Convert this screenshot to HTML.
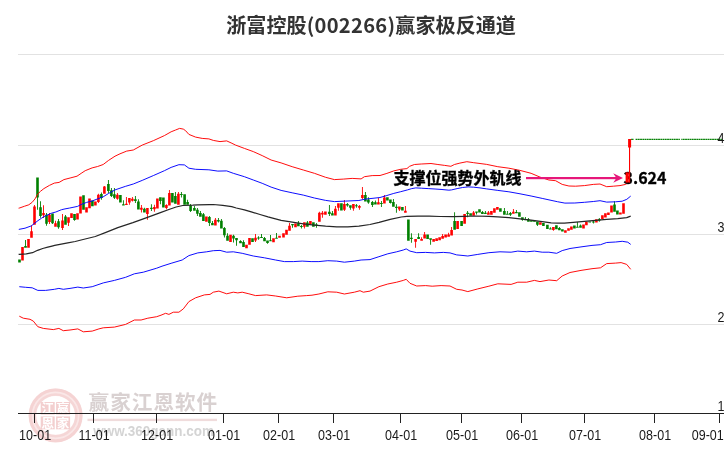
<!DOCTYPE html>
<html lang="zh-CN"><head><meta charset="utf-8"><title>浙富控股(002266)赢家极反通道</title>
<style>html,body{margin:0;padding:0;background:#fff;}body{width:726px;height:450px;overflow:hidden;position:relative;font-family:"Liberation Sans","Noto Sans CJK SC",sans-serif;}svg{position:absolute;left:0;top:0;display:block}
.t{font-family:"Noto Sans CJK SC","Liberation Sans",sans-serif;font-weight:700;fill:#333}
.ax{font-family:"Liberation Sans",sans-serif;font-size:14.3px;fill:#1a1a1a}
.an{font-family:"Noto Sans CJK SC","Liberation Sans",sans-serif;font-weight:700;font-size:16px;fill:#000}
.wm{font-family:"Noto Sans CJK SC","Liberation Sans",sans-serif;}
</style></head><body>
<svg width="726" height="450" viewBox="0 0 726 450">
<rect width="726" height="450" fill="#fff"/>
<g id="wm">
<circle cx="55.6" cy="415.4" r="23.2" fill="none" stroke="#fae7e7" stroke-width="7.6"/>
<circle cx="55.6" cy="415.4" r="25.4" fill="none" stroke="#f5d3d3" stroke-width="3"/>
<circle cx="55.6" cy="415.4" r="20.9" fill="none" stroke="#f5d6d6" stroke-width="2.6"/>
<rect x="40.7" y="402" width="14" height="12.6" fill="#f3cfcf"/>
<rect x="56.1" y="402" width="14" height="12.6" fill="#f3cfcf"/>
<rect x="40.7" y="416.4" width="14" height="12.9" fill="#f3cfcf"/>
<rect x="56.1" y="416.4" width="14" height="12.9" fill="#f3cfcf"/>
<text class="wm" x="47.7" y="412.9" font-size="12.5" font-weight="700" text-anchor="middle" fill="#fff">江</text>
<text class="wm" x="63.1" y="412.9" font-size="12.5" font-weight="700" text-anchor="middle" fill="#fff">赢</text>
<text class="wm" x="47.7" y="427.5" font-size="12.5" font-weight="700" text-anchor="middle" fill="#fff">恩</text>
<text class="wm" x="63.1" y="427.5" font-size="12.5" font-weight="700" text-anchor="middle" fill="#fff">家</text>
<text class="wm" x="88.6" y="410.3" font-size="20.6" font-weight="700" fill="#d9d1d1" textLength="128.6" lengthAdjust="spacing">赢家江恩软件</text>
<rect x="87.5" y="418.7" width="129.5" height="2.4" fill="#f0dcdc"/>
<text x="93.2" y="435.5" font-family="Liberation Sans,sans-serif" font-size="14.5" font-weight="700" fill="#d4d4d4" textLength="120.7" lengthAdjust="spacingAndGlyphs">www.360gann.com</text>
</g>
<rect x="18" y="54.0" width="706" height="1" fill="#e2e2e2"/>
<rect x="18" y="145.0" width="706" height="1" fill="#e2e2e2"/>
<rect x="18" y="234.0" width="706" height="1" fill="#e2e2e2"/>
<rect x="18" y="324.0" width="706" height="1" fill="#e2e2e2"/>
<path d="M18.20,259.5h2.6v3.0h-2.6zM24.20,246.0h2.6v1.7h-2.6zM25.05,240.0h0.9v6.0h-0.9zM36.20,177.6h2.6v20.0h-2.6zM37.05,197.6h0.9v12.1h-0.9zM39.20,207.2h2.6v8.8h-2.6zM40.05,201.2h0.9v6.0h-0.9zM40.05,216.0h0.9v1.8h-0.9zM45.20,214.7h2.6v9.0h-2.6zM46.05,213.0h0.9v1.7h-0.9zM46.05,223.7h0.9v2.0h-0.9zM51.20,213.5h2.6v9.8h-2.6zM52.05,223.3h0.9v0.7h-0.9zM57.20,221.3h2.6v6.0h-2.6zM58.05,219.0h0.9v2.3h-0.9zM58.05,227.3h0.9v1.4h-0.9zM64.20,216.6h2.6v8.1h-2.6zM65.05,215.0h0.9v1.6h-0.9zM73.20,214.0h2.6v6.1h-2.6zM74.05,220.1h0.9v0.6h-0.9zM82.20,195.3h2.6v14.4h-2.6zM91.10,200.6h2.6v5.6h-2.6zM100.10,194.0h2.6v4.1h-2.6zM100.95,192.6h0.9v1.4h-0.9zM100.95,198.1h0.9v1.7h-0.9zM107.10,184.0h2.6v6.9h-2.6zM107.95,180.0h0.9v4.0h-0.9zM107.95,190.9h0.9v2.2h-0.9zM110.10,190.3h2.6v5.6h-2.6zM110.95,188.1h0.9v2.2h-0.9zM110.95,195.9h0.9v1.1h-0.9zM113.10,194.2h2.6v3.6h-2.6zM113.95,188.1h0.9v6.1h-0.9zM113.95,197.8h0.9v1.1h-0.9zM119.10,195.1h2.6v7.5h-2.6zM122.10,204.2h2.6v1.4h-2.6zM122.95,200.3h0.9v3.9h-0.9zM134.10,199.2h2.6v1.9h-2.6zM134.95,195.9h0.9v3.3h-0.9zM134.95,201.1h0.9v1.8h-0.9zM137.10,201.4h2.6v8.2h-2.6zM137.95,199.2h0.9v2.2h-0.9zM143.10,208.7h2.6v3.9h-2.6zM143.95,207.8h0.9v0.9h-0.9zM150.10,207.8h2.6v1.1h-2.6zM150.95,204.2h0.9v3.6h-0.9zM150.95,208.9h0.9v2.0h-0.9zM159.10,197.3h2.6v3.8h-2.6zM159.95,201.1h0.9v3.1h-0.9zM162.10,197.6h2.6v10.0h-2.6zM171.10,193.1h2.6v9.5h-2.6zM174.10,195.9h2.6v7.8h-2.6zM174.95,192.0h0.9v3.9h-0.9zM180.10,194.0h2.6v1.1h-2.6zM180.95,192.0h0.9v2.0h-0.9zM180.95,195.1h0.9v2.5h-0.9zM183.30,194.2h2.6v10.6h-2.6zM186.30,202.0h2.6v2.8h-2.6zM187.15,199.8h0.9v2.2h-0.9zM189.30,205.6h2.6v5.3h-2.6zM190.15,204.0h0.9v1.6h-0.9zM190.15,210.9h0.9v1.1h-0.9zM193.10,208.1h2.6v2.6h-2.6zM193.95,205.9h0.9v2.2h-0.9zM196.10,209.8h2.6v3.9h-2.6zM196.95,208.1h0.9v1.7h-0.9zM196.95,213.7h0.9v2.2h-0.9zM199.10,213.1h2.6v3.6h-2.6zM199.95,211.1h0.9v2.0h-0.9zM202.10,214.2h2.6v6.7h-2.6zM202.95,213.1h0.9v1.1h-0.9zM208.10,217.0h2.6v6.1h-2.6zM208.95,215.9h0.9v1.1h-0.9zM208.95,223.1h0.9v2.8h-0.9zM211.10,222.9h2.6v2.4h-2.6zM211.95,220.9h0.9v2.0h-0.9zM217.10,220.0h2.6v1.6h-2.6zM217.95,218.1h0.9v1.9h-0.9zM217.95,221.6h0.9v1.0h-0.9zM220.10,220.8h2.6v7.8h-2.6zM220.95,219.1h0.9v1.7h-0.9zM223.10,228.0h2.6v7.2h-2.6zM223.95,226.9h0.9v1.1h-0.9zM223.95,235.2h0.9v2.2h-0.9zM226.20,235.8h2.6v5.0h-2.6zM227.05,233.3h0.9v2.5h-0.9zM232.20,235.8h2.6v2.8h-2.6zM233.05,234.7h0.9v1.1h-0.9zM233.05,238.6h0.9v3.8h-0.9zM235.20,238.0h2.6v2.2h-2.6zM236.05,240.2h0.9v5.6h-0.9zM239.20,241.1h2.6v2.2h-2.6zM240.05,240.2h0.9v0.9h-0.9zM242.20,241.9h2.6v5.0h-2.6zM243.05,240.2h0.9v1.7h-0.9zM251.20,238.2h2.6v3.7h-2.6zM257.20,237.4h2.6v1.0h-2.6zM258.05,236.3h0.9v1.1h-0.9zM258.05,238.4h0.9v1.3h-0.9zM260.20,237.1h2.6v1.0h-2.6zM261.05,234.1h0.9v3.0h-0.9zM263.20,238.0h2.6v3.3h-2.6zM264.05,236.9h0.9v1.1h-0.9zM266.20,240.4h2.6v2.6h-2.6zM267.05,243.0h0.9v0.8h-0.9zM269.20,240.2h2.6v1.1h-2.6zM270.05,235.0h0.9v5.2h-0.9zM275.20,237.8h2.6v1.0h-2.6zM276.05,233.0h0.9v4.8h-0.9zM291.20,224.1h2.6v1.2h-2.6zM292.05,225.3h0.9v2.5h-0.9zM297.10,223.3h2.6v3.0h-2.6zM297.95,221.1h0.9v2.2h-0.9zM300.10,225.9h2.6v1.1h-2.6zM300.95,225.0h0.9v0.9h-0.9zM300.95,227.0h0.9v1.6h-0.9zM306.10,222.6h2.6v4.1h-2.6zM306.95,221.1h0.9v1.5h-0.9zM312.10,222.2h2.6v4.5h-2.6zM315.10,224.4h2.6v1.2h-2.6zM315.95,223.1h0.9v1.3h-0.9zM315.95,225.6h0.9v2.2h-0.9zM328.10,211.7h2.6v2.2h-2.6zM328.95,205.0h0.9v6.7h-0.9zM328.95,213.9h0.9v2.0h-0.9zM331.10,213.3h2.6v2.3h-2.6zM331.95,211.1h0.9v2.2h-0.9zM340.10,203.3h2.6v7.3h-2.6zM346.10,203.9h2.6v1.7h-2.6zM346.95,203.0h0.9v0.9h-0.9zM346.95,205.6h0.9v1.1h-0.9zM349.10,205.2h2.6v2.6h-2.6zM349.95,207.8h0.9v1.9h-0.9zM355.10,205.2h2.6v1.1h-2.6zM355.95,203.9h0.9v1.3h-0.9zM355.95,206.3h0.9v1.5h-0.9zM364.10,195.0h2.6v6.4h-2.6zM364.95,191.9h0.9v3.1h-0.9zM367.10,199.4h2.6v3.1h-2.6zM367.95,197.2h0.9v2.2h-0.9zM367.95,202.5h0.9v1.2h-0.9zM371.10,202.0h2.6v3.0h-2.6zM371.95,201.1h0.9v0.9h-0.9zM371.95,205.0h0.9v2.0h-0.9zM374.10,202.2h2.6v2.2h-2.6zM374.95,200.6h0.9v1.6h-0.9zM380.10,203.1h2.6v1.0h-2.6zM380.95,201.1h0.9v2.0h-0.9zM380.95,204.1h0.9v2.8h-0.9zM386.10,197.2h2.6v3.4h-2.6zM389.10,199.4h2.6v3.7h-2.6zM389.95,203.1h0.9v0.5h-0.9zM392.10,202.0h2.6v4.7h-2.6zM392.95,199.1h0.9v2.9h-0.9zM395.10,206.7h2.6v1.3h-2.6zM395.95,204.2h0.9v2.5h-0.9zM395.95,208.0h0.9v4.8h-0.9zM401.10,206.9h2.6v3.7h-2.6zM407.10,219.4h2.6v21.4h-2.6zM410.10,237.8h2.6v1.1h-2.6zM410.95,233.3h0.9v4.5h-0.9zM410.95,238.9h0.9v3.9h-0.9zM417.30,236.9h2.6v2.0h-2.6zM418.15,233.2h0.9v3.7h-0.9zM426.30,234.4h2.6v4.5h-2.6zM429.30,238.3h2.6v1.4h-2.6zM430.15,239.7h0.9v5.1h-0.9zM453.30,221.1h2.6v8.6h-2.6zM454.15,212.2h0.9v8.9h-0.9zM460.30,221.1h2.6v4.8h-2.6zM466.30,212.8h2.6v1.1h-2.6zM467.15,211.1h0.9v1.7h-0.9zM467.15,213.9h0.9v3.3h-0.9zM469.30,213.3h2.6v2.5h-2.6zM475.20,211.4h2.6v1.3h-2.6zM476.05,212.7h0.9v1.9h-0.9zM478.20,209.3h2.6v3.1h-2.6zM481.10,211.9h2.6v2.2h-2.6zM481.95,211.1h0.9v0.8h-0.9zM484.10,212.8h2.6v1.1h-2.6zM484.95,211.1h0.9v1.7h-0.9zM499.10,208.3h2.6v3.4h-2.6zM503.10,211.1h2.6v3.7h-2.6zM503.95,208.1h0.9v3.0h-0.9zM506.10,213.7h2.6v1.1h-2.6zM506.95,211.1h0.9v2.6h-0.9zM509.10,213.0h2.6v1.8h-2.6zM509.95,211.9h0.9v1.1h-0.9zM509.95,214.8h0.9v1.1h-0.9zM515.10,211.9h2.6v1.4h-2.6zM515.95,210.0h0.9v1.9h-0.9zM518.10,212.2h2.6v4.5h-2.6zM521.10,217.2h2.6v2.5h-2.6zM521.95,219.7h0.9v1.1h-0.9zM524.10,218.9h2.6v1.4h-2.6zM524.95,217.0h0.9v1.9h-0.9zM527.10,219.2h2.6v2.5h-2.6zM527.95,218.1h0.9v1.1h-0.9zM530.10,220.3h2.6v1.4h-2.6zM533.10,220.6h2.6v1.1h-2.6zM536.10,221.4h2.6v3.4h-2.6zM536.95,224.8h0.9v1.1h-0.9zM542.10,223.0h2.6v2.9h-2.6zM546.10,224.8h2.6v4.1h-2.6zM549.10,228.4h2.6v1.1h-2.6zM549.95,227.2h0.9v1.2h-0.9zM555.10,225.2h2.6v4.0h-2.6zM558.10,228.0h2.6v2.2h-2.6zM558.95,227.0h0.9v1.0h-0.9zM561.10,229.2h2.6v2.2h-2.6zM573.10,225.5h2.6v3.1h-2.6zM576.10,226.7h2.6v1.1h-2.6zM576.95,222.1h0.9v4.6h-0.9zM579.20,225.5h2.6v2.2h-2.6zM580.05,224.5h0.9v1.0h-0.9zM588.40,221.5h2.6v1.0h-2.6zM592.10,221.5h2.6v1.0h-2.6zM592.95,220.3h0.9v1.2h-0.9zM592.95,222.5h0.9v1.1h-0.9zM598.00,219.3h2.6v1.2h-2.6zM598.85,218.0h0.9v1.3h-0.9zM598.85,220.5h0.9v1.3h-0.9zM613.20,204.4h2.6v7.4h-2.6zM614.05,201.3h0.9v3.1h-0.9zM616.10,210.6h2.6v4.0h-2.6z" fill="#008000"/>
<path d="M21.20,247.0h2.6v13.4h-2.6zM27.20,239.0h2.6v8.7h-2.6zM30.20,231.3h2.6v6.4h-2.6zM31.05,225.3h0.9v6.0h-0.9zM33.20,206.6h2.6v18.1h-2.6zM34.05,205.0h0.9v1.6h-0.9zM42.20,213.0h2.6v2.2h-2.6zM43.05,205.2h0.9v7.8h-0.9zM43.05,215.2h0.9v2.8h-0.9zM48.20,214.7h2.6v7.3h-2.6zM49.05,213.0h0.9v1.7h-0.9zM49.05,222.0h0.9v2.0h-0.9zM54.20,223.3h2.6v3.4h-2.6zM55.05,220.7h0.9v2.6h-0.9zM61.20,220.5h2.6v7.5h-2.6zM62.05,214.0h0.9v6.5h-0.9zM62.05,228.0h0.9v2.0h-0.9zM67.20,217.2h2.6v5.5h-2.6zM68.05,222.7h0.9v3.3h-0.9zM70.20,213.3h2.6v4.7h-2.6zM76.20,213.2h2.6v6.3h-2.6zM79.20,196.4h2.6v17.1h-2.6zM85.20,207.3h2.6v5.3h-2.6zM88.20,198.5h2.6v9.8h-2.6zM94.10,201.5h2.6v4.0h-2.6zM97.10,194.8h2.6v7.2h-2.6zM97.95,193.7h0.9v1.1h-0.9zM97.95,202.0h0.9v0.9h-0.9zM103.10,186.4h2.6v7.3h-2.6zM103.95,185.9h0.9v0.5h-0.9zM116.10,194.8h2.6v3.9h-2.6zM116.95,192.9h0.9v1.9h-0.9zM116.95,198.7h0.9v1.1h-0.9zM125.10,203.7h2.6v1.3h-2.6zM125.95,197.0h0.9v6.7h-0.9zM128.10,198.1h2.6v4.5h-2.6zM128.95,202.6h0.9v2.2h-0.9zM131.10,198.7h2.6v2.0h-2.6zM131.95,197.0h0.9v1.7h-0.9zM131.95,200.7h0.9v0.7h-0.9zM140.10,207.8h2.6v2.0h-2.6zM140.95,205.0h0.9v2.8h-0.9zM140.95,209.8h0.9v2.8h-0.9zM146.10,208.1h2.6v5.9h-2.6zM146.95,214.0h0.9v5.8h-0.9zM153.10,207.0h2.6v2.2h-2.6zM153.95,204.8h0.9v2.2h-0.9zM153.95,209.2h0.9v2.6h-0.9zM156.10,198.4h2.6v10.0h-2.6zM165.10,205.0h2.6v3.1h-2.6zM165.95,204.2h0.9v0.8h-0.9zM165.95,208.1h0.9v1.1h-0.9zM168.10,193.1h2.6v12.4h-2.6zM168.95,190.0h0.9v3.1h-0.9zM177.10,193.7h2.6v11.1h-2.6zM177.95,192.0h0.9v1.7h-0.9zM205.10,216.4h2.6v5.4h-2.6zM214.10,219.8h2.6v5.8h-2.6zM214.95,218.1h0.9v1.7h-0.9zM229.20,234.7h2.6v7.2h-2.6zM245.20,244.7h2.6v3.5h-2.6zM248.20,238.0h2.6v6.7h-2.6zM254.20,237.8h2.6v2.6h-2.6zM255.05,234.1h0.9v3.7h-0.9zM255.05,240.4h0.9v1.5h-0.9zM272.20,238.2h2.6v4.0h-2.6zM278.20,235.8h2.6v2.0h-2.6zM282.20,233.3h2.6v4.1h-2.6zM285.20,229.7h2.6v5.0h-2.6zM288.20,225.8h2.6v5.0h-2.6zM289.05,223.0h0.9v2.8h-0.9zM294.20,223.5h2.6v3.8h-2.6zM303.10,222.2h2.6v4.5h-2.6zM303.95,226.7h0.9v1.9h-0.9zM309.10,221.1h2.6v2.8h-2.6zM318.10,212.8h2.6v8.9h-2.6zM318.95,211.7h0.9v1.1h-0.9zM321.10,212.8h2.6v1.6h-2.6zM321.95,211.1h0.9v1.7h-0.9zM321.95,214.4h0.9v3.4h-0.9zM324.10,211.4h2.6v3.4h-2.6zM334.10,208.7h2.6v6.9h-2.6zM334.95,206.1h0.9v2.6h-0.9zM337.10,203.3h2.6v4.5h-2.6zM337.95,207.8h0.9v3.0h-0.9zM343.10,203.9h2.6v5.8h-2.6zM343.95,200.0h0.9v3.9h-0.9zM343.95,209.7h0.9v1.4h-0.9zM352.10,204.1h2.6v4.5h-2.6zM352.95,208.6h0.9v2.2h-0.9zM358.10,206.1h2.6v1.7h-2.6zM358.95,205.0h0.9v1.1h-0.9zM358.95,207.8h0.9v1.9h-0.9zM361.10,195.0h2.6v3.1h-2.6zM361.95,187.0h0.9v8.0h-0.9zM361.95,198.1h0.9v1.1h-0.9zM377.10,202.2h2.6v2.2h-2.6zM377.95,198.0h0.9v4.2h-0.9zM383.10,197.6h2.6v6.0h-2.6zM383.95,195.0h0.9v2.6h-0.9zM398.10,206.4h2.6v3.0h-2.6zM398.95,209.4h0.9v1.5h-0.9zM404.10,210.8h2.6v2.0h-2.6zM404.95,206.1h0.9v4.7h-0.9zM414.30,238.9h2.6v2.8h-2.6zM415.15,241.7h0.9v6.1h-0.9zM420.30,238.9h2.6v1.9h-2.6zM421.15,237.2h0.9v1.7h-0.9zM423.30,234.6h2.6v4.0h-2.6zM424.15,232.0h0.9v2.6h-0.9zM432.30,238.9h2.6v2.8h-2.6zM435.30,238.3h2.6v2.8h-2.6zM438.30,237.2h2.6v3.1h-2.6zM441.30,236.1h2.6v2.6h-2.6zM442.15,234.1h0.9v2.0h-0.9zM444.30,234.6h2.6v2.9h-2.6zM447.30,234.4h2.6v2.3h-2.6zM448.15,232.8h0.9v1.6h-0.9zM450.30,230.0h2.6v5.6h-2.6zM451.15,227.0h0.9v3.0h-0.9zM456.30,221.1h2.6v7.8h-2.6zM463.30,214.1h2.6v9.6h-2.6zM472.30,212.6h2.6v3.2h-2.6zM473.15,211.1h0.9v1.5h-0.9zM487.10,212.6h2.6v2.2h-2.6zM487.95,211.1h0.9v1.5h-0.9zM490.10,211.1h2.6v3.7h-2.6zM493.10,208.3h2.6v4.5h-2.6zM496.10,207.0h2.6v2.7h-2.6zM512.10,211.7h2.6v2.0h-2.6zM512.95,208.9h0.9v2.8h-0.9zM539.10,222.2h2.6v2.6h-2.6zM552.10,227.1h2.6v3.0h-2.6zM552.95,230.1h0.9v0.7h-0.9zM564.10,230.2h2.6v2.5h-2.6zM567.20,228.2h2.6v2.5h-2.6zM570.10,226.5h2.6v3.3h-2.6zM582.20,224.5h2.6v4.1h-2.6zM585.10,221.8h2.6v3.4h-2.6zM595.10,219.3h2.6v3.1h-2.6zM601.10,215.3h2.6v3.7h-2.6zM604.10,213.3h2.6v4.1h-2.6zM607.10,212.5h2.6v2.4h-2.6zM610.20,205.4h2.6v7.1h-2.6zM619.10,212.5h2.6v2.1h-2.6zM622.20,203.2h2.6v10.5h-2.6z" fill="#ff0000"/>
<path d="M18.6,208.2 L19.8,207.9 L24.6,206.2 L28.8,204.8 L32.2,202.3 L35.0,198.9 L37.7,194.1 L40.5,191.3 L43.9,188.6 L49.4,185.4 L54.3,183.1 L59.1,182.4 L63.9,179.6 L70.1,178.0 L77.0,176.2 L81.1,173.4 L85.2,170.7 L92.1,167.9 L97.6,166.5 L103.2,164.5 L108.7,160.3 L115.0,156.2 L120.0,153.8 L126.7,151.1 L133.3,150.0 L142.2,145.1 L153.3,140.7 L164.4,135.6 L171.1,131.8 L175.6,130.0 L179.6,128.4 L183.3,129.1 L185.6,130.7 L188.9,134.4 L195.6,137.1 L202.2,138.4 L208.9,138.9 L213.3,140.4 L220.0,141.6 L226.7,140.9 L231.1,142.9 L235.6,145.1 L244.4,148.4 L253.3,151.6 L262.2,155.6 L271.1,160.0 L281.1,162.9 L292.2,166.7 L303.3,170.0 L314.4,173.3 L325.6,177.3 L334.4,179.6 L343.3,179.1 L352.2,178.4 L361.1,178.9 L364.4,176.7 L372.2,175.6 L380.0,175.5 L386.9,173.4 L393.8,170.9 L400.7,169.3 L406.9,168.6 L409.6,166.3 L414.4,164.5 L421.3,164.0 L431.0,163.5 L437.9,164.5 L444.7,165.4 L450.9,166.3 L454.4,164.5 L459.9,163.1 L466.8,161.7 L473.7,162.7 L480.0,163.5 L486.7,164.4 L497.8,166.7 L508.9,168.2 L520.0,170.4 L531.1,173.3 L540.0,177.1 L548.9,180.0 L555.6,180.7 L562.2,184.4 L568.9,186.0 L575.6,186.2 L584.4,185.6 L593.3,184.4 L600.0,184.0 L606.7,186.7 L613.3,186.2 L620.0,185.6 L625.6,184.4 L628.5,182.5 L630.5,180.5" fill="none" stroke="#ff0000" stroke-width="0.95" stroke-linejoin="round"/>
<path d="M19.3,316.2 L23.3,318.2 L30.0,319.3 L33.3,321.1 L37.8,326.7 L43.3,328.4 L53.3,329.6 L58.9,328.4 L63.3,330.7 L70.0,330.0 L77.8,328.9 L83.3,331.8 L92.2,331.1 L98.9,328.9 L103.3,327.8 L114.4,327.1 L125.6,324.4 L134.4,320.0 L141.1,320.0 L147.8,318.2 L156.7,316.7 L161.0,315.2 L165.6,313.3 L168.9,314.4 L173.3,312.2 L178.9,312.2 L183.3,308.9 L188.9,301.6 L195.6,297.8 L204.4,294.9 L210.0,294.4 L213.3,292.2 L218.9,291.1 L226.7,293.8 L233.3,292.2 L237.8,292.9 L242.2,292.2 L248.9,293.8 L255.6,295.6 L266.7,294.9 L275.6,296.0 L286.7,297.8 L297.8,296.2 L306.7,295.6 L312.0,295.2 L318.9,294.0 L327.8,291.8 L336.7,292.2 L344.4,294.0 L354.4,292.2 L360.0,290.7 L363.3,292.2 L370.0,291.1 L378.9,286.7 L387.8,284.0 L396.7,282.2 L403.3,280.4 L406.2,279.3 L410.0,283.3 L416.7,286.0 L425.6,285.6 L432.2,286.2 L441.1,285.6 L450.0,286.0 L456.7,289.3 L462.0,290.0 L467.8,291.6 L477.8,288.9 L488.9,286.2 L497.8,283.8 L511.1,284.4 L517.8,282.2 L526.7,282.2 L534.4,280.4 L540.0,281.6 L548.9,280.0 L556.7,280.7 L562.2,276.0 L570.0,272.5 L581.0,270.4 L592.0,268.7 L600.5,267.8 L606.7,263.6 L615.6,263.1 L621.1,262.6 L626.7,264.4 L630.7,269.3" fill="none" stroke="#ff0000" stroke-width="0.95" stroke-linejoin="round"/>
<path d="M18.8,229.4 L25.0,228.2 L31.3,225.9 L38.0,220.6 L41.5,218.2 L45.1,216.0 L51.5,213.2 L55.8,212.0 L61.5,209.7 L65.0,208.9 L69.3,208.1 L77.5,206.4 L81.1,204.5 L86.6,202.4 L92.1,201.0 L97.6,198.9 L103.2,196.8 L108.7,193.4 L115.0,189.9 L125.3,186.4 L133.3,184.0 L142.2,180.4 L153.3,175.6 L164.4,170.7 L171.1,167.4 L178.9,164.7 L184.4,164.9 L188.9,168.2 L195.6,169.3 L208.9,169.8 L217.8,171.1 L226.7,170.9 L233.3,173.3 L244.4,176.7 L253.3,180.0 L262.2,183.3 L271.1,187.1 L281.1,190.4 L292.2,192.8 L303.3,195.1 L314.4,198.0 L325.6,200.4 L334.4,201.6 L345.6,201.1 L358.9,200.5 L365.2,199.1 L372.0,198.4 L380.0,197.5 L386.9,195.5 L393.8,193.4 L400.7,191.7 L407.5,189.9 L411.7,188.6 L415.8,187.9 L421.3,188.2 L428.2,188.6 L435.1,189.0 L442.0,189.5 L448.9,190.2 L451.6,189.9 L457.1,188.6 L462.6,187.5 L468.2,186.9 L473.7,187.2 L480.0,187.9 L486.7,188.9 L497.8,190.4 L508.9,191.8 L520.0,193.8 L531.1,196.0 L542.2,198.4 L550.0,200.1 L557.4,201.7 L564.9,203.1 L574.8,203.0 L584.4,202.3 L593.3,201.5 L600.0,200.7 L606.7,202.1 L615.6,201.8 L622.2,201.2 L626.8,199.3 L630.7,196.1" fill="none" stroke="#0000ff" stroke-width="0.95" stroke-linejoin="round"/>
<path d="M19.3,286.7 L25.6,287.3 L32.2,287.8 L37.8,290.4 L45.6,290.4 L54.4,289.3 L58.9,288.4 L63.3,289.3 L70.0,288.4 L77.8,287.1 L83.3,288.0 L92.2,286.7 L103.3,282.9 L114.4,280.4 L125.6,277.3 L134.4,273.8 L143.3,272.2 L156.7,268.2 L162.0,266.2 L171.1,263.3 L182.2,260.0 L188.9,255.6 L197.8,252.9 L206.7,251.8 L213.3,250.7 L220.0,250.4 L226.7,252.2 L233.3,251.8 L242.2,253.3 L253.3,256.0 L264.4,257.8 L275.6,260.0 L284.4,261.6 L293.3,261.6 L302.2,261.1 L311.1,261.6 L318.9,261.6 L327.8,260.7 L336.7,261.1 L344.4,262.2 L354.4,261.1 L361.1,260.0 L370.0,259.6 L378.9,256.7 L387.8,253.8 L396.7,251.8 L403.3,250.0 L406.2,248.9 L410.0,251.1 L416.7,252.7 L425.6,252.4 L434.4,252.9 L443.3,252.4 L450.0,252.9 L456.7,254.9 L462.0,255.4 L467.8,256.0 L477.8,254.4 L488.9,252.7 L500.0,251.8 L511.1,252.2 L517.8,251.1 L526.7,251.8 L534.4,251.1 L542.2,252.2 L548.9,252.2 L556.7,253.3 L562.2,250.6 L570.0,248.5 L581.0,246.9 L592.0,245.4 L600.5,244.7 L606.7,242.5 L615.6,242.0 L622.2,241.3 L627.8,242.2 L630.7,244.4" fill="none" stroke="#0000ff" stroke-width="0.95" stroke-linejoin="round"/>
<path d="M18.6,254.4 L19.2,254.3 L26.3,253.8 L32.5,252.7 L37.6,250.3 L42.7,248.5 L47.8,247.2 L52.0,246.1 L54.7,245.4 L67.8,242.9 L75.2,241.5 L81.1,240.0 L95.3,236.5 L105.3,232.7 L117.8,227.7 L132.9,222.7 L145.4,218.2 L160.4,212.6 L168.9,209.5 L176.1,207.0 L182.8,205.5 L192.8,205.2 L197.8,204.9 L209.4,204.6 L213.3,204.5 L222.8,205.3 L231.7,206.7 L236.3,208.0 L244.4,209.8 L251.3,211.9 L260.0,214.5 L268.0,216.9 L281.1,220.4 L292.2,222.2 L303.3,223.8 L314.4,225.1 L325.6,226.2 L336.7,226.9 L347.8,226.9 L358.9,226.1 L370.0,224.5 L379.1,222.4 L390.2,219.4 L401.3,217.0 L406.9,216.3 L418.0,216.1 L429.1,216.1 L440.2,216.5 L453.3,216.7 L464.4,216.4 L475.6,216.0 L488.9,216.4 L497.8,216.8 L508.9,217.6 L520.0,218.8 L531.1,220.2 L542.2,221.7 L551.1,222.8 L557.4,223.2 L564.4,223.1 L573.3,222.4 L584.4,221.4 L595.6,220.3 L606.7,219.3 L617.8,218.6 L626.7,217.6 L630.7,216.2" fill="none" stroke="#262626" stroke-width="1.25" stroke-linejoin="round"/>
<line x1="631.1" y1="139.4" x2="722" y2="139.4" stroke="#078207" stroke-width="1.1" stroke-dasharray="1.85 0.4"/>
<rect x="633.8" y="138" width="1.5" height="3" fill="#fff"/>
<rect x="679.9" y="138" width="1.4" height="3" fill="#fff"/>
<rect x="526" y="177" width="92" height="2.2" fill="#e6177a"/>
<path d="M623,178 L613.2,173.2 L616.4,178 L613.2,182.8 Z" fill="#e6177a"/>
<text class="an" x="393.5" y="184" stroke="#000" stroke-width="0.35">支撑位强势外轨线</text>
<text class="an" x="623.5" y="184.1" font-size="17.1" stroke="#000" stroke-width="0.3">3.624</text>
<rect x="628.1" y="139" width="3" height="8.5" fill="#ff0000"/>
<rect x="629.0" y="147" width="1.1" height="35.6" fill="#ff0000"/>
<rect x="625.6" y="172.4" width="3.2" height="10.2" fill="#ff0000"/>
<rect x="18" y="413" width="706" height="1" fill="#222"/>
<rect x="34" y="413" width="1" height="10" fill="#222"/>
<rect x="93" y="413" width="1" height="10" fill="#222"/>
<rect x="156" y="413" width="1" height="10" fill="#222"/>
<rect x="223" y="413" width="1" height="10" fill="#222"/>
<rect x="278" y="413" width="1" height="10" fill="#222"/>
<rect x="333" y="413" width="1" height="10" fill="#222"/>
<rect x="400" y="413" width="1" height="10" fill="#222"/>
<rect x="461" y="413" width="1" height="10" fill="#222"/>
<rect x="521" y="413" width="1" height="10" fill="#222"/>
<rect x="584" y="413" width="1" height="10" fill="#222"/>
<rect x="654" y="413" width="1" height="10" fill="#222"/>
<rect x="719" y="413" width="1" height="10" fill="#222"/>
<text class="ax" transform="translate(35.10,440) scale(0.875,1)" text-anchor="middle">10-01</text>
<text class="ax" transform="translate(94.10,440) scale(0.875,1)" text-anchor="middle">11-01</text>
<text class="ax" transform="translate(157.10,440) scale(0.875,1)" text-anchor="middle">12-01</text>
<text class="ax" transform="translate(224.10,440) scale(0.875,1)" text-anchor="middle">01-01</text>
<text class="ax" transform="translate(279.10,440) scale(0.875,1)" text-anchor="middle">02-01</text>
<text class="ax" transform="translate(334.10,440) scale(0.875,1)" text-anchor="middle">03-01</text>
<text class="ax" transform="translate(401.10,440) scale(0.875,1)" text-anchor="middle">04-01</text>
<text class="ax" transform="translate(462.10,440) scale(0.875,1)" text-anchor="middle">05-01</text>
<text class="ax" transform="translate(522.10,440) scale(0.875,1)" text-anchor="middle">06-01</text>
<text class="ax" transform="translate(585.10,440) scale(0.875,1)" text-anchor="middle">07-01</text>
<text class="ax" transform="translate(655.10,440) scale(0.875,1)" text-anchor="middle">08-01</text>
<text class="ax" transform="translate(707.70,440) scale(0.875,1)" text-anchor="middle">09-01</text>
<text class="ax" transform="translate(724.4,142.9) scale(0.875,1)" text-anchor="end">4</text>
<text class="ax" transform="translate(724.4,232.0) scale(0.875,1)" text-anchor="end">3</text>
<text class="ax" transform="translate(724.4,322.0) scale(0.875,1)" text-anchor="end">2</text>
<text class="ax" transform="translate(724.4,411.0) scale(0.875,1)" text-anchor="end">1</text>
<text class="t" x="371.1" y="33" font-size="20.1" text-anchor="middle">浙富控股<tspan letter-spacing="0.3">(002266)</tspan>赢家极反通道</text>
</svg>
</body></html>
